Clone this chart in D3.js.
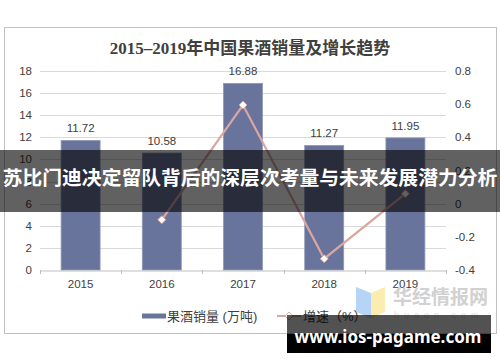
<!DOCTYPE html>
<meta charset="utf-8">
<script src="https://d3js.org/d3.v7.min.js"></script>
<style>
  body { margin: 0; background: #fff; }
  text { font-family: "Liberation Sans", Arial, "Noto Sans CJK SC", sans-serif; }
</style>
<div id="chart"></div>
<script>

// data
var years = ["2015", "2016", "2017", "2018", "2019"];
var sales = [11.72, 10.58, 16.88, 11.27, 11.95];          // 万吨
var growth = [null, -0.097, 0.595, -0.332, 0.06];         // 增速
var leftTicks = [0, 2, 4, 6, 8, 10, 12, 14, 16, 18];
var rightTicks = [-0.4, -0.2, 0, 0.2, 0.4, 0.6, 0.8];

var W = 500, H = 362;
var plot = {left: 40, right: 446, top: 71, bottom: 270};

var svg = d3.select("#chart").append("svg")
    .attr("width", W)
    .attr("height", H);

// outer frame
svg.append("rect")
  .attr("x", 4.5).attr("y", 27.5)
  .attr("width", 492).attr("height", 306)
  .attr("fill", "#fff")
  .attr("stroke", "#c0c0c0");

svg.append("text")
  .attr("x", 250).attr("y", 54)
  .attr("text-anchor", "middle")
  .style("font-family", "'Liberation Serif', 'Noto Sans CJK SC', serif")
  .style("font-weight", "bold")
  .style("font-size", "17px")
  .attr("fill", "#404040")
  .text("2015–2019年中国果酒销量及增长趋势");

var x = d3.scaleBand()
  .domain(years)
  .range([plot.left, plot.right]);

var y = d3.scaleLinear()
  .domain([0, 18])
  .range([plot.bottom, plot.top]);

var y2 = d3.scaleLinear()
  .domain([-0.4, 0.8])
  .range([plot.bottom, plot.top]);

// grid
svg.selectAll(".grid")
  .data(leftTicks.filter(function(d) { return d > 0; }))
  .enter().append("line")
    .attr("x1", plot.left).attr("x2", plot.right)
    .attr("y1", function(d) { return Math.round(y(d)) + 0.5; })
    .attr("y2", function(d) { return Math.round(y(d)) + 0.5; })
    .attr("stroke", "#d9d9d9");

// left axis labels
svg.selectAll(".ly")
  .data(leftTicks)
  .enter().append("text")
    .attr("x", 32)
    .attr("y", function(d) { return y(d) + 4; })
    .attr("text-anchor", "end")
    .style("font-size", "11.5px")
    .attr("fill", "#404040")
    .text(function(d) { return d; });

// right axis labels
svg.selectAll(".ry")
  .data(rightTicks)
  .enter().append("text")
    .attr("x", 455)
    .attr("y", function(d) { return y2(d) + 4; })
    .style("font-size", "11.5px")
    .attr("fill", "#404040")
    .text(function(d) { return d; });

// bars
var bw = x.bandwidth() * 0.48;
svg.selectAll(".bar")
  .data(sales)
  .enter().append("rect")
    .attr("x", function(d, i) { return x(years[i]) + (x.bandwidth() - bw) / 2; })
    .attr("y", function(d) { return y(d); })
    .attr("width", bw)
    .attr("height", function(d) { return y(0) - y(d); })
    .attr("fill", "#69749c")
    .attr("stroke", "#8f98b8")
    .attr("stroke-width", 0.8);

// bar value labels
svg.selectAll(".val")
  .data(sales)
  .enter().append("text")
    .attr("x", function(d, i) { return x(years[i]) + x.bandwidth() / 2; })
    .attr("y", function(d) { return y(d) - 8; })
    .attr("text-anchor", "middle")
    .style("font-size", "11.5px")
    .attr("fill", "#404040")
    .text(function(d) { return d.toFixed(2); });

// x axis
var xAxis = svg.append("g")
  .attr("transform", "translate(0," + (plot.bottom + 0.5) + ")")
  .call(d3.axisBottom(x).tickSize(0).tickPadding(9));
xAxis.select(".domain").attr("stroke", "#bfbfbf");
xAxis.selectAll("text")
  .style("font-size", "11.5px")
  .style("font-family", "'Liberation Sans', Arial, sans-serif")
  .attr("fill", "#404040");
svg.selectAll(".xt")
  .data(d3.range(years.length + 1))
  .enter().append("line")
    .attr("x1", function(i) { return Math.round(plot.left + i * x.step()) + 0.5; })
    .attr("x2", function(i) { return Math.round(plot.left + i * x.step()) + 0.5; })
    .attr("y1", plot.bottom).attr("y2", plot.bottom + 4)
    .attr("stroke", "#bfbfbf");

// growth line
var pts = growth.map(function(g, i) { return {year: years[i], g: g}; })
  .filter(function(d) { return d.g !== null; });
var lineColor = "#d8a7a2";
svg.append("path")
  .datum(pts)
  .attr("fill", "none")
  .attr("stroke", lineColor)
  .attr("stroke-width", 2.2)
  .attr("d", d3.line()
    .x(function(d) { return x(d.year) + x.bandwidth() / 2; })
    .y(function(d) { return y2(d.g); }));

var diamond = d3.symbol().type(d3.symbolDiamond2).size(40);
svg.selectAll(".pt")
  .data(pts)
  .enter().append("path")
    .attr("d", diamond)
    .attr("transform", function(d) {
      return "translate(" + (x(d.year) + x.bandwidth() / 2) + "," + y2(d.g) + ")";
    })
    .attr("fill", "#fff")
    .attr("stroke", lineColor)
    .attr("stroke-width", 1);

// legend
var lg = svg.append("g");
lg.append("rect")
  .attr("x", 142).attr("y", 313.5)
  .attr("width", 24).attr("height", 5)
  .attr("fill", "#69749c");
lg.append("text")
  .attr("x", 167).attr("y", 321)
  .style("font-size", "13px")
  .attr("fill", "#404040")
  .text("果酒销量 (万吨)");
lg.append("line")
  .attr("x1", 277).attr("x2", 301)
  .attr("y1", 316).attr("y2", 316)
  .attr("stroke", lineColor).attr("stroke-width", 2);
lg.append("path")
  .attr("d", diamond)
  .attr("transform", "translate(289,316)")
  .attr("fill", "#fff")
  .attr("stroke", lineColor);
lg.append("text")
  .attr("x", 303).attr("y", 321)
  .style("font-size", "13px")
  .attr("fill", "#404040")
  .text("增速（%）");

// source logo (faint)
var logo = svg.append("g").attr("opacity", 0.85);
logo.append("polygon")
  .attr("points", "356,287 371,293 371,318 356,312")
  .attr("fill", "#a9cdf5");
logo.append("polygon")
  .attr("points", "371,293 385,287 385,312 371,318")
  .attr("fill", "#fbe9a3");
logo.append("text")
  .attr("x", 393).attr("y", 304)
  .style("font-size", "19px")
  .style("font-family", "'Noto Sans CJK SC', sans-serif")
  .style("font-weight", "bold")
  .attr("fill", "#c9c9c9")
  .text("华经情报网");
logo.append("text")
  .attr("x", 394).attr("y", 318)
  .style("font-size", "9px")
  .style("letter-spacing", "5px")
  .attr("fill", "#dcdcdc")
  .text("huaon.com");

// overlay banner
svg.append("rect")
  .attr("x", 0).attr("y", 150)
  .attr("width", W).attr("height", 62)
  .attr("fill", "#000")
  .attr("opacity", 0.62);
svg.append("text")
  .attr("x", 250).attr("y", 185)
  .attr("text-anchor", "middle")
  .style("font-family", "'Noto Sans CJK SC', sans-serif")
  .style("font-weight", "bold")
  .style("font-size", "19.8px")
  .attr("fill", "#fff")
  .text("苏比门迪决定留队背后的深层次考量与未来发展潜力分析");

// watermark box
svg.append("rect")
  .attr("x", 287).attr("y", 315)
  .attr("width", 204).attr("height", 38)
  .attr("fill", "#000")
  .attr("opacity", 0.68);
svg.append("rect")
  .attr("x", 287).attr("y", 334)
  .attr("width", 204).attr("height", 19)
  .attr("fill", "#000");
svg.append("text")
  .attr("x", 388).attr("y", 343)
  .attr("text-anchor", "middle")
  .style("font-family", "'Noto Sans', sans-serif")
  .style("font-weight", "bold")
  .style("font-size", "17px")
  .attr("fill", "#fff")
  .text("www.ios-pagame.com");

</script>
